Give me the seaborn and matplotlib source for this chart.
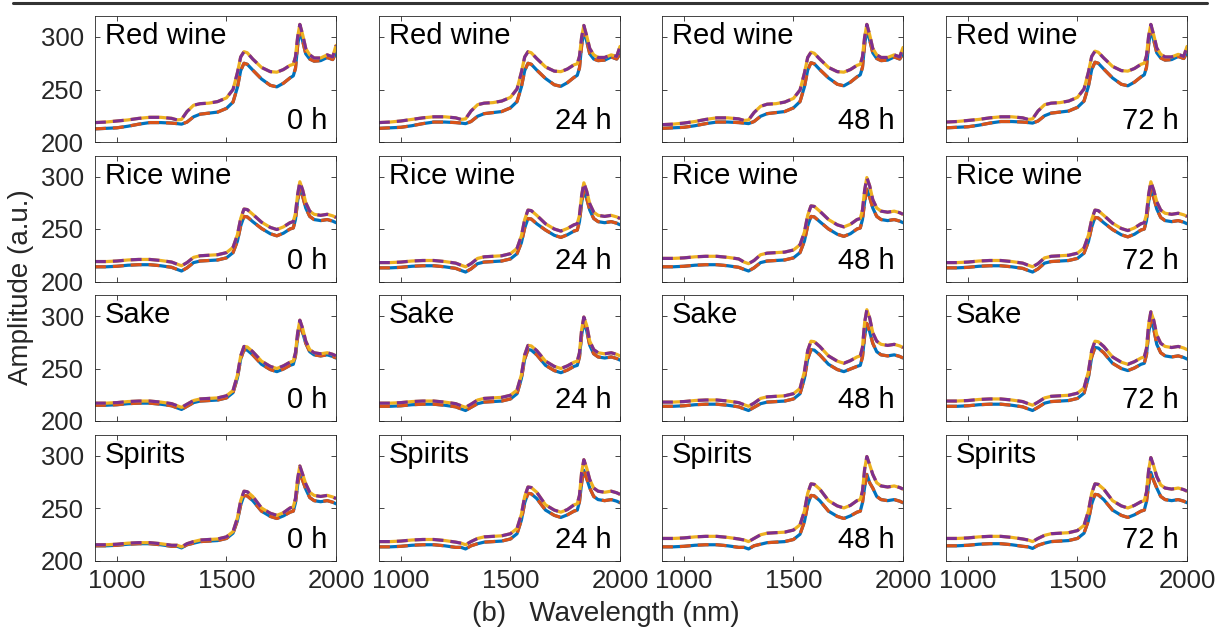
import matplotlib
matplotlib.use("Agg")
import matplotlib.pyplot as plt
from matplotlib.lines import Line2D
import seaborn as sns

# Wavelength sampling (nm), shared by every spectrum
wavelength = [900, 950, 1000, 1050, 1100, 1150, 1200, 1250, 1275, 1295, 1320, 1350, 1380, 1420,
              1460, 1500, 1530, 1550, 1565, 1580, 1595, 1620, 1660, 1700, 1730, 1760, 1790, 1805,
              1815, 1825, 1835, 1848, 1862, 1880, 1900, 1930, 1960, 1985, 2000]

liquids = ["Red wine", "Rice wine", "Sake", "Spirits"]
hours = ["0 h", "24 h", "48 h", "72 h"]
x_ticks = [1000, 1500, 2000]
y_ticks = [200, 250, 300]

# Red wine
red_wine_0h_low = [212.5, 213, 213.5, 215, 217, 218.5, 218.5, 218, 217.5, 217, 219, 224, 226.5, 227.5, 228.5, 232, 238, 252, 268, 275, 274, 268.5, 260, 254, 252.5, 256, 261, 263, 270, 292, 306, 296, 284, 279, 277, 277.5, 280.5, 278.5, 285]
red_wine_0h_high = [218.5, 219, 220, 221, 222.5, 223.5, 223.5, 222.5, 221, 221.5, 229, 235, 236.5, 237, 238.5, 242, 250, 266, 281, 286, 285, 279, 271, 267, 266.5, 269, 273, 274, 281, 300, 312, 302, 289, 283, 280, 280, 283, 281, 292]
red_wine_24h_low = [213, 213.5, 214, 215.5, 217.5, 219, 219, 218.5, 218, 217.5, 219.5, 224.5, 227, 228, 229, 232.5, 238.5, 252.5, 268, 275, 274, 268.5, 260.5, 254.5, 253, 256.5, 261.5, 263.5, 270.5, 292, 306, 296, 284, 279, 277.5, 278, 281, 279, 284]
red_wine_24h_high = [218.5, 219, 220, 221.5, 223, 224, 224, 223, 221.5, 222, 229.5, 235.5, 237, 237.5, 239, 242.5, 250.5, 266.5, 281, 286, 285, 279.5, 271.5, 267.5, 267, 269.5, 273.5, 274.5, 281.5, 300, 311, 301, 289, 283, 280.5, 280.5, 283, 281.5, 291]
red_wine_48h_low = [213, 213.5, 214, 215.5, 217.5, 219, 219, 218.5, 218, 217.5, 219.5, 224.5, 227, 228, 229, 232.5, 238.5, 252.5, 268.5, 275.5, 274.5, 269, 261, 255, 253.5, 257, 262, 264, 271, 293, 307, 297, 285, 279.5, 277.5, 278, 281, 279, 284]
red_wine_48h_high = [216.5, 217, 218, 219.5, 221.5, 223, 223, 222, 220.5, 221, 228, 234, 236, 236.5, 238, 241.5, 249.5, 265.5, 280.5, 285.5, 284.5, 279, 271, 267, 266.5, 269, 273, 274, 281, 300, 312, 302, 289, 283, 280.5, 280.5, 283, 281, 290]
red_wine_72h_low = [213.5, 214, 214.5, 216, 218, 219.5, 219.5, 219, 218.5, 218, 220, 225, 227.5, 228.5, 229.5, 233, 239, 253, 269, 276, 275, 269.5, 261, 255, 253.5, 257, 262, 264, 271, 293, 307, 297, 285, 280, 278, 278.5, 281.5, 279.5, 285]
red_wine_72h_high = [219, 219.5, 220.5, 221.5, 223, 224, 224, 223, 221.5, 222, 229.5, 235.5, 237, 237.5, 239, 242.5, 250.5, 266.5, 281.5, 286.5, 285.5, 280, 272, 268, 267.5, 270, 274, 275, 282, 301, 312, 302, 289.5, 283.5, 281, 281, 283.5, 281.5, 291]

# Rice wine
rice_wine_0h_low = [214, 214, 214.5, 215.5, 216, 216, 215, 213.5, 211.5, 210, 213, 218, 219.5, 220, 220.5, 222.5, 227.5, 238.5, 253, 262, 261.5, 257, 250.5, 245.5, 243.5, 246, 250, 251, 259, 277, 289, 281, 270, 262, 259, 258, 259, 257.5, 256]
rice_wine_0h_high = [219, 219, 219.5, 220.5, 221, 221, 220, 218.5, 216.5, 215, 218, 223, 224.5, 225, 225.5, 227.5, 232.5, 244.5, 260, 269, 268.5, 264, 256.5, 251.5, 249.5, 252, 256, 257, 265, 283, 295, 287, 275, 267, 264, 263, 264, 262.5, 261]
rice_wine_24h_low = [213, 213, 213.5, 214.5, 215, 215, 214, 212.5, 210.5, 209, 212, 217, 218.5, 219, 219.5, 221.5, 226.5, 237, 251, 260, 259.5, 255, 249, 244, 242, 244.5, 248, 249, 257, 275, 287, 279, 268, 260, 257, 256, 257, 255.5, 254]
rice_wine_24h_high = [218, 218, 218.5, 219.5, 220, 220, 219, 217.5, 215.5, 214, 217, 222, 223.5, 224, 224.5, 226.5, 231.5, 243.5, 259, 268, 267.5, 263, 255, 250, 248, 250.5, 254, 255, 263, 282, 294, 286, 274, 266, 263, 262, 263, 261.5, 260]
rice_wine_48h_low = [214, 214, 214.5, 215.5, 216, 216, 215, 213.5, 211.5, 210, 213, 218, 219.5, 220, 220.5, 222.5, 227.5, 238.5, 253, 262, 261.5, 257, 250, 245, 243, 245.5, 250, 251, 259, 276, 288, 280, 270, 262, 259, 258, 259, 257.5, 256]
rice_wine_48h_high = [222, 222, 222.5, 223.5, 224, 224, 223, 221.5, 218.5, 217, 220, 225.5, 227, 227.5, 228, 230, 235, 247, 263, 272, 271.5, 267, 259, 254, 252, 254.5, 259, 260, 268, 287, 299, 291, 278, 270, 267, 266, 267, 265.5, 264]
rice_wine_72h_low = [213, 213, 213.5, 214.5, 215, 215, 214, 212.5, 210.5, 209, 212, 217.5, 219, 219.5, 220, 222, 227, 238, 252, 261, 260.5, 256, 249.5, 244.5, 242.5, 245, 249, 250, 258, 276, 288, 280, 269, 261, 258, 257, 258, 256.5, 255]
rice_wine_72h_high = [218, 218, 218.5, 219.5, 220, 220, 219, 217.5, 215.5, 214, 217, 222.5, 224, 224.5, 225, 227, 232, 244, 259, 268, 267.5, 263, 255.5, 250.5, 248.5, 251, 255, 256, 264, 283, 295, 287, 276, 268, 265, 264, 265, 263.5, 262]

# Sake
sake_0h_low = [215, 215, 215.5, 216.5, 217, 217, 216, 214.5, 212.5, 211, 214, 217.5, 219, 219.5, 220, 222, 227, 241, 259, 268, 267.5, 263, 254, 249, 247, 249.5, 253, 254, 262, 280, 292, 284, 274, 266, 263, 262, 263, 261.5, 260]
sake_0h_high = [217, 217, 217.5, 218.5, 219, 219, 218, 216.5, 214.5, 213, 216, 219.5, 221, 221.5, 222, 224, 229, 243.5, 262, 271, 270.5, 266, 257, 252, 250, 252.5, 256, 257, 265, 284, 296, 288, 276, 268, 265, 264, 265, 263.5, 262]
sake_24h_low = [214, 214, 214.5, 215.5, 216, 216, 215, 213.5, 211.5, 210, 213, 216.5, 218, 218.5, 219, 221, 226, 240.5, 259, 268, 267.5, 263, 253, 248, 246, 248.5, 252, 253, 261, 282, 294, 286, 272, 264, 261, 260, 261, 259.5, 258]
sake_24h_high = [217, 217, 217.5, 218.5, 219, 219, 218, 216.5, 214.5, 213, 216, 220, 221.5, 222, 222.5, 224.5, 229.5, 244, 263, 272, 271.5, 267, 257, 252, 250, 252.5, 256, 257, 265, 287, 299, 291, 276, 268, 265, 264, 265, 263.5, 262]
sake_48h_low = [214, 214, 214.5, 215.5, 216, 216, 215, 213.5, 211.5, 210, 213, 216.5, 218, 218.5, 219, 221, 226, 240.5, 259, 268, 267.5, 263, 254, 249, 247, 249.5, 252, 253, 261, 281, 293, 285, 274, 266, 263, 262, 263, 261.5, 260]
sake_48h_high = [218, 218, 218.5, 219.5, 220, 220, 219, 217.5, 215.5, 214, 217, 221.5, 223, 223.5, 224, 226, 231, 247, 267, 276, 275.5, 271, 262, 257, 255, 257.5, 261, 262, 270, 294, 306, 298, 284, 276, 273, 272, 273, 271.5, 270]
sake_72h_low = [214, 214, 214.5, 215.5, 216, 216, 215, 213.5, 211.5, 210, 213, 217, 218.5, 219, 219.5, 221.5, 226.5, 241.5, 261, 270, 269.5, 265, 255, 250, 248, 250.5, 254, 255, 263, 284, 296, 288, 273, 265, 262, 261, 262, 260.5, 259]
sake_72h_high = [219, 219, 219.5, 220.5, 221, 221, 220, 218.5, 216.5, 215, 218, 222, 223.5, 224, 224.5, 226.5, 231.5, 247, 267, 276, 275.5, 271, 261, 256, 254, 256.5, 260, 261, 269, 292, 304, 296, 282, 274, 271, 270, 271, 269.5, 268]

# Spirits
spirits_0h_low = [214, 214, 214.5, 215.5, 216, 216, 215, 213.5, 213.5, 212, 215, 216.5, 218, 218.5, 219, 221, 226, 238, 253, 262, 261.5, 257, 247, 242, 240, 242.5, 246, 247, 255, 272, 284, 276, 268, 260, 257, 256, 257, 255.5, 254]
spirits_0h_high = [215, 215, 215.5, 216.5, 217, 217, 216, 214.5, 214.5, 213, 216, 218, 219.5, 220, 220.5, 222.5, 227.5, 240.5, 257, 266, 265.5, 261, 250, 245, 243, 245.5, 250, 251, 259, 278, 290, 282, 273, 265, 262, 261, 262, 260.5, 259]
spirits_24h_low = [213, 213, 213.5, 214.5, 215, 215, 214, 212.5, 212.5, 211, 214, 216, 217.5, 218, 218.5, 220.5, 225.5, 238.5, 255, 264, 263.5, 259, 248, 243, 241, 243.5, 247, 248, 256, 274, 286, 278, 269, 261, 258, 257, 258, 256.5, 255]
spirits_24h_high = [218, 218, 218.5, 219.5, 220, 220, 219, 217.5, 216.5, 215, 218, 221, 222.5, 223, 223.5, 225.5, 230.5, 244, 261, 270, 269.5, 265, 253, 248, 246, 248.5, 253, 254, 262, 284, 296, 288, 277, 269, 266, 265, 266, 264.5, 263]
spirits_48h_low = [213, 213, 213.5, 214.5, 215, 215, 214, 212.5, 212.5, 211, 214, 215.5, 217, 217.5, 218, 220, 225, 237, 253, 262, 261.5, 257, 247, 242, 240, 242.5, 246, 247, 255, 270, 282, 274, 269, 261, 258, 257, 258, 256.5, 255]
spirits_48h_high = [221, 221, 221.5, 222.5, 223, 223, 222, 220.5, 219.5, 218, 221, 224.5, 226, 226.5, 227, 229, 234, 247, 264, 273, 272.5, 268, 257, 252, 250, 252.5, 257, 258, 266, 287, 299, 291, 282, 274, 271, 270, 271, 269.5, 268]
spirits_72h_low = [214, 214, 214.5, 215.5, 216, 216, 215, 213.5, 213, 211.5, 214.5, 216.5, 218, 218.5, 219, 221, 226, 238, 254, 263, 262.5, 258, 248, 243, 241, 243.5, 247, 248, 256, 272, 284, 276, 269, 261, 258, 257, 258, 256.5, 255]
spirits_72h_high = [221, 221, 221.5, 222.5, 223, 223, 222, 220.5, 219.5, 218, 221, 224, 225.5, 226, 226.5, 228.5, 233.5, 247, 264, 273, 272.5, 268, 257, 252, 250, 252.5, 256, 257, 265, 286, 298, 290, 280, 272, 269, 268, 269, 267.5, 266]

spectra = [
    [(red_wine_0h_low, red_wine_0h_high), (red_wine_24h_low, red_wine_24h_high),
     (red_wine_48h_low, red_wine_48h_high), (red_wine_72h_low, red_wine_72h_high)],
    [(rice_wine_0h_low, rice_wine_0h_high), (rice_wine_24h_low, rice_wine_24h_high),
     (rice_wine_48h_low, rice_wine_48h_high), (rice_wine_72h_low, rice_wine_72h_high)],
    [(sake_0h_low, sake_0h_high), (sake_24h_low, sake_24h_high),
     (sake_48h_low, sake_48h_high), (sake_72h_low, sake_72h_high)],
    [(spirits_0h_low, spirits_0h_high), (spirits_24h_low, spirits_24h_high),
     (spirits_48h_low, spirits_48h_high), (spirits_72h_low, spirits_72h_high)],
]

BLUE, ORANGE, YELLOW, PURPLE = "#0072BD", "#D95319", "#EDB120", "#7E2F8E"
AX_COLOR = "#262626"

sns.set_style("ticks")
plt.rcParams["font.family"] = ["Liberation Sans", "DejaVu Sans"]

W, H = 1215, 634
fig = plt.figure(figsize=(W / 100, H / 100), dpi=100)

col_left = [95, 379, 662, 946]
panel_w = 241
row_top = [16, 155.5, 295, 434.5]
panel_h = 126

lw = 2.3
dash = (0, (3.4, 2.2))

for r, liquid in enumerate(liquids):
    for c, hour in enumerate(hours):
        ax = fig.add_axes([col_left[c] / W, 1 - (row_top[r] + panel_h) / H,
                           panel_w / W, panel_h / H])
        low, high = spectra[r][c]
        sns.lineplot(x=wavelength, y=low, ax=ax, color=BLUE, linewidth=lw, estimator=None)
        sns.lineplot(x=wavelength, y=low, ax=ax, color=ORANGE, linewidth=lw,
                     linestyle=dash, estimator=None)
        sns.lineplot(x=wavelength, y=high, ax=ax, color=YELLOW, linewidth=lw, estimator=None)
        sns.lineplot(x=wavelength, y=high, ax=ax, color=PURPLE, linewidth=lw,
                     linestyle=dash, estimator=None)
        ax.set_xlim(900, 2000)
        ax.set_ylim(200, 320)
        ax.set_xticks(x_ticks)
        ax.set_yticks(y_ticks)
        ax.tick_params(direction="in", length=3.5, width=0.6, color=AX_COLOR,
                       top=True, right=True, labelsize=18.5, labelcolor=AX_COLOR)
        ax.tick_params(axis="x", pad=6)
        ax.tick_params(axis="y", pad=8)
        if c != 0:
            ax.set_yticklabels([])
        if r != len(liquids) - 1:
            ax.set_xticklabels([])
        for sp in ax.spines.values():
            sp.set_visible(True)
            sp.set_color(AX_COLOR)
            sp.set_linewidth(0.6)
        ax.set_xlabel("")
        ax.set_ylabel("")
        ax.text(0.04, 0.95, liquid, transform=ax.transAxes, ha="left", va="top",
                fontsize=21, color="black")
        ax.text(0.965, 0.10, hour, transform=ax.transAxes, ha="right", va="baseline",
                fontsize=21, color="black")

fig.text(21 / W, 1 - 287 / H, "Amplitude (a.u.)", rotation=90, ha="center", va="center",
         fontsize=20, color=AX_COLOR)
fig.text(606 / W, 1 - 614 / H, "(b)   Wavelength (nm)", ha="center", va="center",
         fontsize=20, color=AX_COLOR)

# horizontal rule along the top edge
fig.add_artist(Line2D([13 / W, 1207 / W], [1 - 2.5 / H, 1 - 2.5 / H],
                      transform=fig.transFigure, color="#333333", linewidth=2.2))

fig.savefig("out.png", dpi=100)
